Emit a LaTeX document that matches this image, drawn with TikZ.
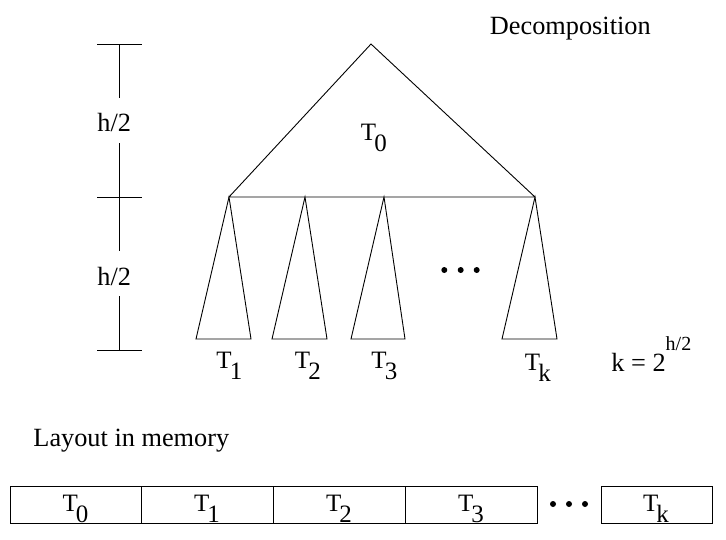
\documentclass[tikz,border=0pt]{standalone}
\usepackage{fontspec}
\setmainfont{Liberation Serif}
\newcommand{\Tsub}[1]{T\kern-1.8pt\raisebox{-11pt}{#1}}
\begin{document}
\begin{tikzpicture}[x=1pt,y=-1pt,line width=0.9pt,
  lbl/.style={inner sep=0pt,anchor=base west,font=\fontsize{26.3}{30}\selectfont},
  tl/.style={inner sep=0pt,anchor=base west,font=\fontsize{25}{28}\selectfont},
  bl/.style={inner sep=0pt,anchor=base,font=\fontsize{25}{28}\selectfont},
  cell/.style={draw,inner sep=0pt,minimum height=37pt,anchor=north west},
  dot/.style={circle,fill,inner sep=0pt,minimum size=6pt}]
\useasboundingbox (0,0) rectangle (726,539);
% title
\node[lbl] (dec) at (489.5,34) {Decomposition};
% scale bar
\coordinate (s0) at (119.5,44);
\coordinate (s1) at (119.5,197);
\coordinate (s2) at (119.5,350);
\draw (97,44) -- (142,44);
\draw (97,197) -- (142,197);
\draw (97,350) -- (142,350);
\node[lbl] (h1) at (97,131.7) {h/2};
\node[lbl] (h2) at (97,285) {h/2};
\draw (s0) -- (119.5,98);
\draw (119.5,143) -- (119.5,251);
\draw (119.5,296) -- (s2);
% top tree
\coordinate (apex) at (371,44);
\coordinate (bl0) at (229,197);
\coordinate (br0) at (535,197);
\draw (apex) -- (bl0) -- (br0) -- cycle;
\node[tl] (t0) at (360.5,140) {\Tsub{0}};
% subtrees
\coordinate (a2) at (305,197);
\coordinate (a3) at (384,197);
\draw (bl0) -- (196,339) -- (251,339) -- cycle;
\draw (a2) -- (272,339) -- (327,339) -- cycle;
\draw (a3) -- (351,339) -- (405,339) -- cycle;
\draw (br0) -- (502,339) -- (557,339) -- cycle;
\node[dot] (d1) at (444.3,270) {};
\node[dot] (d2) at (460.7,270) {};
\node[dot] (d3) at (476.7,270) {};
\node[tl] (t1) at (216,368) {\Tsub{1}};
\node[tl] (t2) at (294.5,368) {\Tsub{2}};
\node[tl] (t3) at (371,368) {\Tsub{3}};
\node[tl] (tk) at (524.5,370) {\Tsub{k}};
\node[lbl] (keq) at (611,371.7) {k = 2\raisebox{21pt}{\fontsize{20}{22}\selectfont h/2}};
% layout
\node[lbl] (lay) at (33,446) {Layout in memory};
\node[cell,minimum width=131pt] (b0) at (10,486) {};
\node[cell,minimum width=132pt] (b1) at (141,486) {};
\node[cell,minimum width=132pt] (b2) at (273,486) {};
\node[cell,minimum width=132pt] (b3) at (405,486) {};
\node[cell,minimum width=111pt] (bk) at (601,486) {};
\node[bl] at (75.5,511) {\Tsub{0}};
\node[bl] at (207,511) {\Tsub{1}};
\node[bl] at (339,511) {\Tsub{2}};
\node[bl] at (471,511) {\Tsub{3}};
\node[bl] at (656,511) {\Tsub{k}};
\node[dot] (e1) at (553,504) {};
\node[dot] (e2) at (569,504) {};
\node[dot] (e3) at (585,504) {};
\end{tikzpicture}
\end{document}
